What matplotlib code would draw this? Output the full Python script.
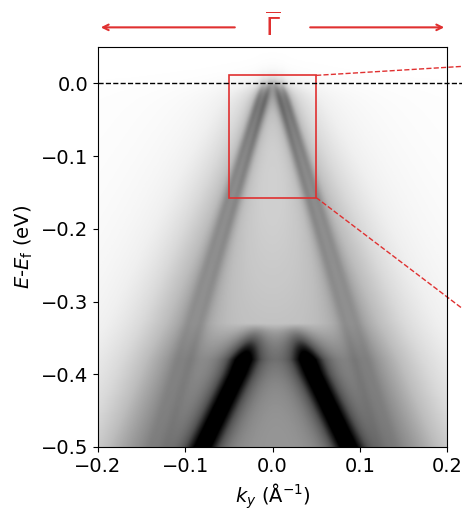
import numpy as np
import matplotlib.pyplot as plt
from matplotlib.patches import Rectangle

# band parameters: (k at E=0, slope dk/d(-E), width, weight)
inner_bands = [(0.003, 0.24, 0.005, 0.35), (0.011, 0.26, 0.005, 0.3)]
outer_band = (0.015, 0.27, 0.035, 0.5)
deep_band_E = [-0.34, -0.40, -0.45, -0.50]
deep_band_k = [0.015, 0.035, 0.055, 0.075]

k = np.linspace(-0.2, 0.2, 400)
E = np.linspace(-0.5, 0.05, 450)
K, EE = np.meshgrid(k, E)
img = np.zeros_like(K)
occ = 1 / (1 + np.exp(EE / 0.008))

def lor(x, x0, w):
    return w**2 / ((x - x0)**2 + w**2)

depth = np.clip(-EE, 0, None)
for k0, v, w, a in inner_bands:
    for s in (-1, 1):
        img += a * np.exp(-depth / 0.25) * lor(K, s * (k0 + v * depth), w + 0.01 * depth)
k0, v, w, a = outer_band
for s in (-1, 1):
    img += a * (0.3 + depth) * lor(K, s * (k0 + v * depth), w + 0.08 * depth)
kd = np.interp(EE, deep_band_E[::-1], deep_band_k[::-1])
mask = np.clip((-0.33 - EE) / 0.05, 0, 1)
for s, off in ((-1, -0.005), (1, 0.012)):
    img += 0.75 * mask * lor(K, s * kd + off, 0.017)
img += 0.28 * np.exp(-(K / 0.11)**2) * np.clip(depth / 0.5, 0, 1)
img *= occ

fig = plt.figure(figsize=(4.62, 5.29), dpi=100)
ax = fig.add_axes([98/462, 82/529, 349/462, 400/529])
ax.imshow(img, extent=[-0.2, 0.2, -0.5, 0.05], origin='lower', aspect='auto',
          cmap='Greys', vmin=0, vmax=1.0)
ax.set_xlim(-0.2, 0.2)
ax.set_ylim(-0.5, 0.05)
ax.set_xticks([-0.2, -0.1, 0.0, 0.1, 0.2])
ax.set_yticks([0.0, -0.1, -0.2, -0.3, -0.4, -0.5])
ax.tick_params(labelsize=14, direction='out')
ax.set_xlabel(r'$k_y$ (Å$^{-1}$)', fontsize=14)
ax.set_ylabel(r'$E$-$E_{\mathrm{f}}$ (eV)', fontsize=14)

ax.plot([-0.2, 0.24], [0, 0], 'k--', lw=1, clip_on=False)
ax.text(0.232, 0, 'E', fontsize=15, style='italic', va='center', clip_on=False)
red = '#e03030'
ax.add_patch(Rectangle((-0.05, -0.157), 0.1, 0.168, fill=False, ec=red, lw=1.2))
ax.plot([0.05, 0.24], [0.011, 0.025], '--', color=red, lw=1, clip_on=False)
ax.plot([0.05, 0.24], [-0.157, -0.33], '--', color=red, lw=1, clip_on=False)

ax.annotate('', xy=(-0.2, 0.077), xytext=(-0.04, 0.077), xycoords='data',
            arrowprops=dict(arrowstyle='->', color=red, lw=1.5), annotation_clip=False)
ax.annotate('', xy=(0.2, 0.077), xytext=(0.04, 0.077), xycoords='data',
            arrowprops=dict(arrowstyle='->', color=red, lw=1.5), annotation_clip=False)
ax.text(0, 0.079, r'$\overline{\mathit{\Gamma}}$', color=red, fontsize=18, ha='center', va='center')

fig.savefig('out.png', dpi=100)
